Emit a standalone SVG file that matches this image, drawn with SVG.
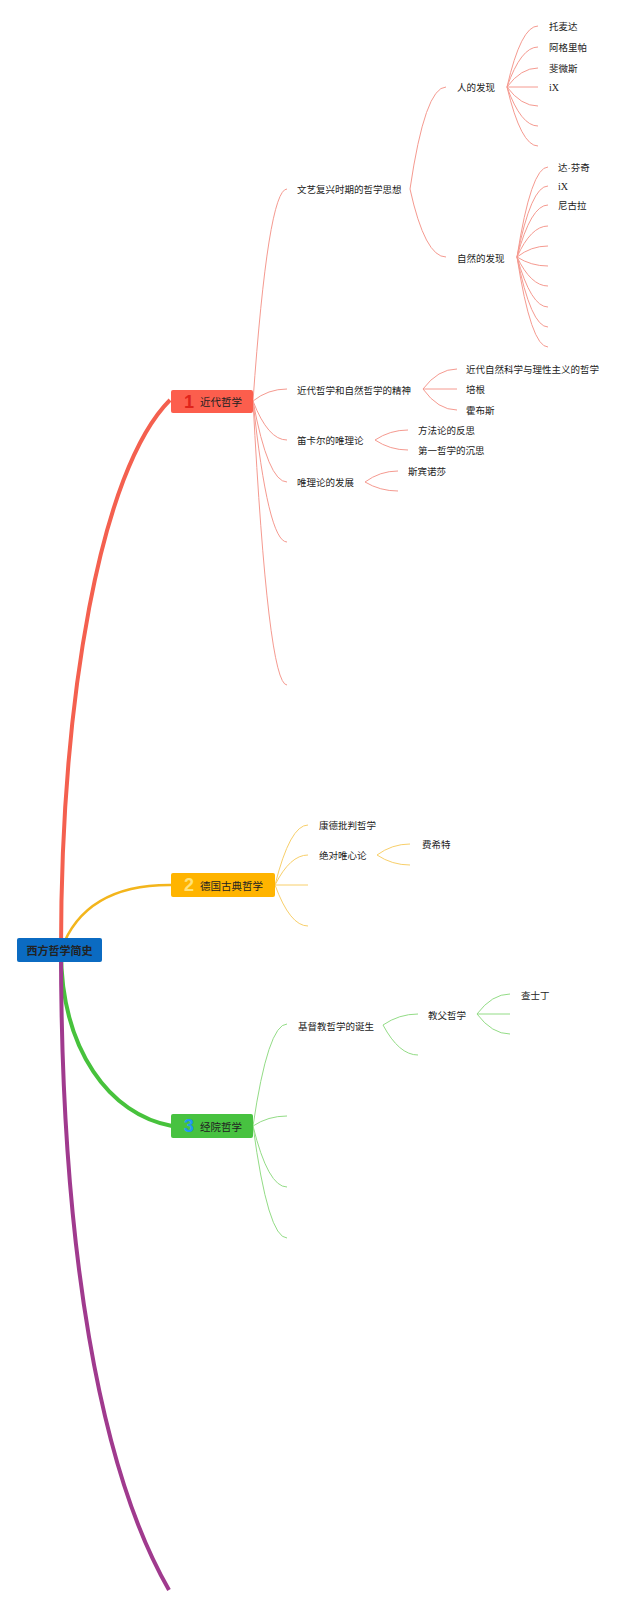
<svg xmlns="http://www.w3.org/2000/svg" width="640" height="1607" viewBox="0 0 640 1607">
<style>
text{font-family:"Noto Sans CJK SC","Liberation Sans",sans-serif;fill:#222;dominant-baseline:central}
.t{font-size:9.5px}
.m{font-size:10.5px}
.num{font-family:"Liberation Sans",sans-serif;font-weight:bold;font-size:18px}
.ser{font-family:"Liberation Serif",serif;font-size:10px}
.r{fill:none;stroke:#f59a90;stroke-width:1}
.o{fill:none;stroke:#f8cf6a;stroke-width:1}
.g{fill:none;stroke:#93dc86;stroke-width:1}
</style>
<rect width="640" height="1607" fill="#ffffff"/>
<g id="connectors">
  <path d="M61 950 C61 700 100 470 170 400" fill="none" stroke="#f4604f" stroke-width="4"/>
  <path d="M61 950 Q85 884 172 885" fill="none" stroke="#f3b51c" stroke-width="2.5"/>
  <path d="M61 950 C61 1050 110 1115 172 1126" fill="none" stroke="#47c23c" stroke-width="4"/>
  <path d="M61 950 C61 1250 100 1470 169 1590" fill="none" stroke="#a03a8e" stroke-width="4"/>
  <path class="r" d="M253 401 Q268 189 287 189"/>
  <path class="r" d="M253 401 Q268 389 287 389"/>
  <path class="r" d="M253 401 Q268 440 287 440"/>
  <path class="r" d="M253 401 Q268 482 287 482"/>
  <path class="r" d="M253 401 Q268 542 287 542"/>
  <path class="r" d="M253 401 Q268 685 287 685"/>
  <path class="r" d="M410 189 Q425 87 446 87"/>
  <path class="r" d="M410 189 Q425 257 446 257"/>
  <path class="r" d="M507 87 Q521 26 538 26"/>
  <path class="r" d="M507 87 Q521 47 538 47"/>
  <path class="r" d="M507 87 Q521 68 538 68"/>
  <path class="r" d="M507 87 L538 87"/>
  <path class="r" d="M507 87 Q521 106 538 106"/>
  <path class="r" d="M507 87 Q521 126 538 126"/>
  <path class="r" d="M507 87 Q521 146 538 146"/>
  <path class="r" d="M517 257 Q531 167 548 167"/>
  <path class="r" d="M517 257 Q531 186 548 186"/>
  <path class="r" d="M517 257 Q531 205 548 205"/>
  <path class="r" d="M517 257 Q531 226 548 226"/>
  <path class="r" d="M517 257 Q531 246 548 246"/>
  <path class="r" d="M517 257 Q531 266 548 266"/>
  <path class="r" d="M517 257 Q531 286 548 286"/>
  <path class="r" d="M517 257 Q531 307 548 307"/>
  <path class="r" d="M517 257 Q531 327 548 327"/>
  <path class="r" d="M517 257 Q531 347 548 347"/>
  <path class="r" d="M423 389 Q438 369 457 369"/>
  <path class="r" d="M423 389 L457 389"/>
  <path class="r" d="M423 389 Q438 410 457 410"/>
  <path class="r" d="M375 440 Q390 430 408 430"/>
  <path class="r" d="M375 440 Q390 450 408 450"/>
  <path class="r" d="M365 482 Q380 471 398 471"/>
  <path class="r" d="M365 482 Q380 491 398 491"/>
  <path class="o" d="M275 885 Q290 825 308 825"/>
  <path class="o" d="M275 885 Q290 855 308 855"/>
  <path class="o" d="M275 885 L308 885"/>
  <path class="o" d="M275 885 Q290 926 308 926"/>
  <path class="o" d="M377 855 Q392 844 410 844"/>
  <path class="o" d="M377 855 Q392 865 410 865"/>
  <path class="g" d="M253 1126 Q268 1024 287 1024"/>
  <path class="g" d="M253 1126 Q268 1116 287 1116"/>
  <path class="g" d="M253 1126 Q268 1187 287 1187"/>
  <path class="g" d="M253 1126 Q268 1238 287 1238"/>
  <path class="g" d="M383 1025 Q399 1014 418 1014"/>
  <path class="g" d="M383 1025 Q399 1055 418 1055"/>
  <path class="g" d="M477 1014 Q492 994 510 994"/>
  <path class="g" d="M477 1014 L510 1014"/>
  <path class="g" d="M477 1014 Q492 1034 510 1034"/>
</g>
<g id="root">
  <rect x="17" y="938" width="85" height="24" rx="2" fill="#0b6bc2"/>
  <text class="m" x="59.5" y="950" text-anchor="middle" font-weight="bold" style="font-size:11px">西方哲学简史</text>
</g>
<g id="n1">
  <rect x="171" y="390" width="82" height="23" rx="2" fill="#fc5e4d"/>
  <text class="num" x="189" y="401.5" text-anchor="middle" style="fill:#e0241c">1</text>
  <text class="m" x="200" y="401.5">近代哲学</text>
</g>
<g id="n2">
  <rect x="171" y="873" width="104" height="24" rx="2" fill="#ffb400"/>
  <text class="num" x="189" y="885" text-anchor="middle" style="fill:#ffe27a">2</text>
  <text class="m" x="200" y="885">德国古典哲学</text>
</g>
<g id="n3">
  <rect x="171" y="1114" width="82" height="24" rx="2" fill="#47c240"/>
  <text class="num" x="189" y="1126" text-anchor="middle" style="fill:#2196f3">3</text>
  <text class="m" x="200" y="1126">经院哲学</text>
</g>
<g id="n1a"><text class="t" x="297" y="189">文艺复兴时期的哲学思想</text></g>
<g id="n1a1"><text class="t" x="457" y="87">人的发现</text></g>
<g id="n1a1a"><text class="t" x="549" y="26">托麦达</text></g>
<g id="n1a1b"><text class="t" x="549" y="47">阿格里帕</text></g>
<g id="n1a1c"><text class="t" x="549" y="68">斐微斯</text></g>
<g id="n1a1d"><text class="ser" x="549" y="87">iX</text></g>
<g id="n1a2"><text class="t" x="457" y="258">自然的发现</text></g>
<g id="n1a2a"><text class="t" x="558" y="167">达<tspan style="font-family:'Liberation Sans',sans-serif">·</tspan>芬奇</text></g>
<g id="n1a2b"><text class="ser" x="558" y="186">iX</text></g>
<g id="n1a2c"><text class="t" x="558" y="205">尼古拉</text></g>
<g id="n1b"><text class="t" x="297" y="390">近代哲学和自然哲学的精神</text></g>
<g id="n1b1"><text class="t" x="466" y="369">近代自然科学与理性主义的哲学</text></g>
<g id="n1b2"><text class="t" x="466" y="389">培根</text></g>
<g id="n1b3"><text class="t" x="466" y="410">霍布斯</text></g>
<g id="n1c"><text class="t" x="297" y="440">笛卡尔的唯理论</text></g>
<g id="n1c1"><text class="t" x="418" y="430">方法论的反思</text></g>
<g id="n1c2"><text class="t" x="418" y="450">第一哲学的沉思</text></g>
<g id="n1d"><text class="t" x="297" y="482">唯理论的发展</text></g>
<g id="n1d1"><text class="t" x="408" y="471">斯宾诺莎</text></g>
<g id="n2a"><text class="t" x="319" y="825">康德批判哲学</text></g>
<g id="n2b"><text class="t" x="319" y="855">绝对唯心论</text></g>
<g id="n2b1"><text class="t" x="422" y="844">费希特</text></g>
<g id="n3a"><text class="t" x="298" y="1026">基督教哲学的诞生</text></g>
<g id="n3a1"><text class="t" x="428" y="1015">教父哲学</text></g>
<g id="n3a1a"><text class="t" x="521" y="995">查士丁</text></g>
</svg>
